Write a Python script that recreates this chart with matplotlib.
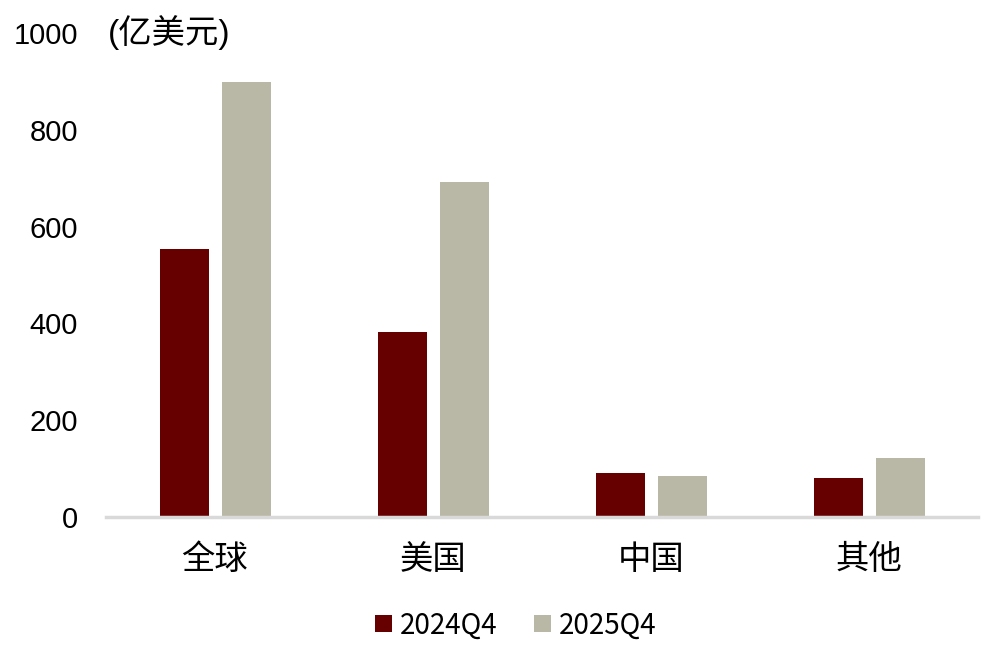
import matplotlib
matplotlib.use("Agg")
import matplotlib.pyplot as plt
import numpy as np

plt.rcParams['font.family'] = ['Noto Sans CJK SC', 'DejaVu Sans']

# ---- data ----
categories = ["全球", "美国", "中国", "其他"]
series_names = ["2024Q4", "2025Q4"]
values_2024 = [554, 382, 91, 81]
values_2025 = [899, 692, 85, 122]
colors = ["#660000", "#B9B8A6"]

latin_cjk = ['Liberation Sans', 'Noto Sans CJK SC']

fig = plt.figure(figsize=(9.98, 6.47), dpi=100)
ax = fig.add_axes([106 / 998, 1 - 517 / 647, 872 / 998, (517 - 33) / 647])

x = np.arange(len(categories))
w = 0.225
ax.bar(x - 0.14, values_2024, width=w, color=colors[0], label=series_names[0])
ax.bar(x + 0.145, values_2025, width=w, color=colors[1], label=series_names[1])

ax.set_xlim(-0.5, len(categories) - 0.5)
ax.set_ylim(0, 1000)
ax.set_yticks(range(0, 1001, 200))
ax.set_xticks(x)
ax.set_xticklabels(categories, fontsize=24)
ax.tick_params(axis='y', labelsize=21, length=0, pad=20)
ax.tick_params(axis='x', length=0, pad=18)
for lbl in ax.get_yticklabels():
    lbl.set_family(latin_cjk)

for side in ["top", "right", "left"]:
    ax.spines[side].set_visible(False)
ax.spines["bottom"].set_color("#D9D9D9")
ax.spines["bottom"].set_linewidth(2.5)

fig.text(108 / 998, 1 - 33 / 647, "(亿美元)", fontsize=24, va="center", ha="left",
         family=latin_cjk)

ax.legend(loc="center", bbox_to_anchor=(0.47, -0.224), ncol=2, frameon=False,
          fontsize=20, handlelength=0.6, handleheight=0.6, handletextpad=0.3,
          columnspacing=1.3)

fig.savefig("out.png", dpi=100)
